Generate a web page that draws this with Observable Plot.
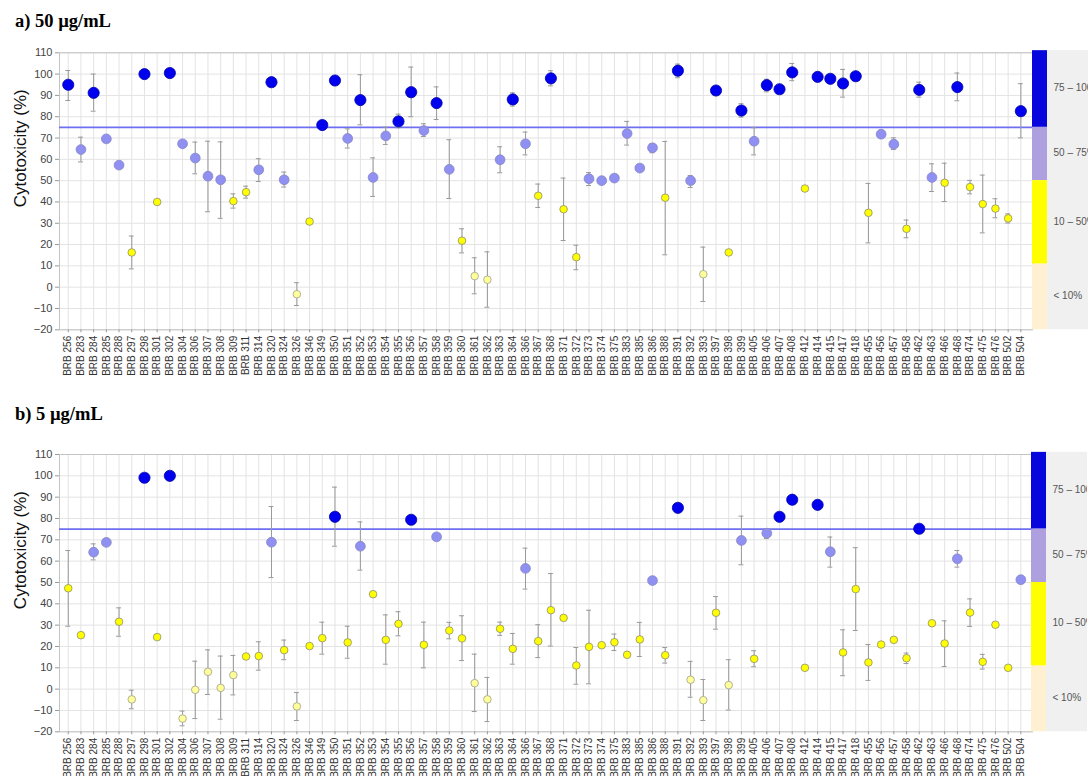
<!DOCTYPE html>
<html>
<head>
<meta charset="utf-8">
<script src="https://cdn.jsdelivr.net/npm/d3@7"></script>
<script src="https://cdn.jsdelivr.net/npm/@observablehq/plot@0.6"></script>
<style>
  html, body { margin: 0; padding: 0; background: #fff; overflow: hidden; }
  body { position: relative; width: 1088px; height: 776px; }
  .title { position: absolute; left: 15px; font-family: "Liberation Serif", "Times New Roman", serif; font-weight: bold; font-size: 18.5px; line-height: 1; color: #000; }
  .abs { position: absolute; }
  .abs svg { display: block; }
</style>
</head>
<body>
<div class="title" id="ta" style="top:12px">a) 50 µg/mL</div>
<div class="abs" id="pa" style="left:0; top:40px"></div>
<div class="abs" id="la" style="left:1032px; top:40px"></div>
<div class="title" id="tb" style="top:405px">b) 5 µg/mL</div>
<div class="abs" id="pb" style="left:0; top:440px"></div>
<div class="abs" id="lb" style="left:1031px; top:440px"></div>
<script>
// ---------- data ----------
const ids = [256,283,284,285,288,297,298,301,302,304,306,307,308,309,311,314,320,324,326,346,
  349,350,351,352,353,354,355,356,357,358,359,360,361,362,363,364,366,367,368,371,
  372,373,374,375,383,385,386,388,391,392,393,397,398,399,405,406,407,408,412,414,
  415,417,418,455,456,457,458,462,463,466,468,474,475,476,502,504];
const categories = ids.map(n => "BRB " + n);

// a) 50 µg/mL : mean, lower and upper end of error bar (null = no bar)
const v50 = [95.0,64.6,91.2,69.6,57.3,16.3,100.0,40.0,100.5,67.3,60.6,52.1,50.4,40.4,44.6,55.1,96.2,50.4,-3.3,30.8,
  76.1,97.0,69.8,87.8,51.5,71.0,77.8,91.5,73.5,86.4,55.3,21.8,5.2,3.5,59.8,88.1,67.3,42.9,98.0,36.6,
  14.1,50.9,50.0,51.2,72.1,55.9,65.4,42.0,101.6,50.0,6.1,92.3,16.3,82.9,68.5,94.8,92.9,100.8,46.3,98.7,
  97.8,95.6,99.0,34.9,71.8,67.1,27.4,92.6,51.5,49.0,93.9,47.0,39.0,36.9,32.3,82.6];
const lo50 = [87.6,58.8,82.6,null,null,8.6,null,null,null,null,53.2,35.4,32.3,37.1,41.8,49.6,null,47.0,-8.6,null,
  null,null,65.3,76.2,42.6,67.0,74.8,80.0,70.7,78.7,41.6,16.1,-3.1,-9.4,53.7,85.0,62.1,37.4,94.5,21.9,
  8.2,47.7,null,null,66.7,null,63.1,15.2,98.3,46.8,-6.7,null,null,79.8,62.1,91.7,null,96.9,null,null,
  null,89.2,null,20.8,null,64.6,23.2,89.2,44.9,40.2,87.5,43.8,25.5,32.6,30.1,70.1];
const hi50 = [101.7,70.4,100.0,null,null,24.0,null,null,null,null,68.1,68.5,68.2,43.8,47.4,60.3,null,54.0,2.1,null,
  null,null,74.3,99.7,60.7,75.1,81.2,103.3,76.7,94.0,69.2,27.4,13.8,16.6,65.9,91.2,72.8,48.4,101.6,51.2,
  19.7,53.8,null,null,77.8,null,67.3,68.4,104.7,52.4,18.8,null,null,86.1,74.8,97.6,null,105.0,null,null,
  null,102.2,null,48.7,null,70.1,31.5,96.2,57.9,58.2,100.5,50.1,52.6,41.5,34.4,95.5];

// b) 5 µg/mL
const v5 = [47.3,25.3,64.2,68.8,31.6,-4.8,99.1,24.4,100.0,-13.8,-0.3,8.1,0.6,6.6,15.3,15.5,68.9,18.3,-8.1,20.2,
  23.9,80.8,21.9,67.0,44.5,23.1,30.6,79.4,20.8,71.4,27.5,23.8,2.8,-4.8,28.3,18.9,56.6,22.5,37.0,33.4,
  11.1,19.8,20.6,22.0,16.1,23.3,50.9,15.9,85.0,4.4,-5.2,35.8,1.9,69.7,14.2,73.1,80.8,88.8,10.0,86.4,
  64.4,17.2,46.9,12.5,20.9,23.1,14.5,75.2,30.9,21.4,61.1,35.9,12.8,30.2,10.0,51.3];
const lo5 = [29.5,null,60.6,null,24.8,-9.2,null,null,null,-17.2,-13.8,-2.5,-14.1,-2.7,null,8.9,52.3,13.8,-14.7,null,
  16.4,67.0,14.5,55.8,null,11.7,25.0,null,10.0,null,23.6,13.4,-10.5,-15.2,25.2,11.7,46.9,14.8,20.2,null,
  2.3,2.5,null,18.1,null,15.3,null,12.2,null,-3.8,-14.7,28.1,-9.8,58.3,10.5,70.6,null,null,null,null,
  57.2,6.3,27.5,4.1,null,null,12.0,null,null,10.6,57.2,29.4,9.4,null,null,null];
const hi5 = [65.0,null,68.1,null,38.1,-0.5,null,null,null,-10.3,13.1,18.4,15.5,15.8,null,22.2,85.6,23.0,-1.6,null,
  31.4,94.7,29.5,78.4,null,34.8,36.3,null,31.4,null,31.3,34.4,16.4,5.5,31.4,26.1,66.1,30.2,54.2,null,
  19.5,37.0,null,25.8,null,31.3,null,19.5,null,13.0,4.5,43.4,13.8,81.1,18.0,75.2,null,null,null,null,
  71.3,27.8,66.3,20.9,null,null,16.9,null,null,32.0,65.0,42.3,16.3,null,null,null];

// legend classes
const legendLabels = ["75 – 100%", "50 – 75%", "10 – 50%", "< 10%"];
const legendBreaks = [111, 75, 50, 10.8, -20];
const classThresholds = [75, 50, 10];
const yTicks = d3.range(-20, 111, 10);

// ---------- styles ----------
const dotStyle = [
  {fill: "#0000ee", stroke: "#0000a8", r: 5.6},
  {fill: "#9090f2", stroke: "#8686c4", r: 4.9},
  {fill: "#ffff00", stroke: "#8e8e70", r: 3.8},
  {fill: "#ffff99", stroke: "#a0a090", r: 3.8}
];
const legendColors = ["#0707dd", "#ae9fde", "#ffff00", "#fff0d2"];

function classOf(v) {
  for (let i = 0; i < classThresholds.length; i++) if (v >= classThresholds[i]) return i;
  return classThresholds.length;
}

function panel(vals, lows, highs, height, mTop, mBottom) {
  const rows = categories.map((c, i) => ({cat: c, v: vals[i], lo: lows[i], hi: highs[i], k: classOf(vals[i])}));
  const err = rows.filter(d => d.lo != null && d.hi != null);
  const grid = "#e3e3e3";
  return Plot.plot({
    width: 1088, height,
    marginLeft: 59, marginRight: 56, marginTop: mTop, marginBottom: mBottom,
    style: {fontFamily: "'Liberation Sans', Arial, sans-serif", color: "#444", background: "transparent"},
    x: {domain: categories, padding: 0, insetLeft: 2.4, insetRight: 5.3, axis: null},
    y: {domain: [-20, 110], axis: null},
    marks: [
      Plot.gridX({stroke: grid, strokeOpacity: 1}),
      Plot.gridY({ticks: yTicks, stroke: grid, strokeOpacity: 1}),
      Plot.frame({stroke: "#c4c4c4"}),
      Plot.axisY({ticks: yTicks, tickSize: 4, tickPadding: 3, fontSize: 11, label: null, stroke: "#999", fill: "#444"}),
      Plot.axisX({tickRotate: -90, tickSize: 3, tickPadding: 3, fontSize: 10, label: null, stroke: "#999", fill: "#333"}),
      Plot.ruleY([75], {stroke: "#6e6ef2", strokeWidth: 1.6}),
      Plot.ruleX(err, {x: "cat", y1: "lo", y2: "hi", stroke: "#999", strokeWidth: 1}),
      Plot.tickY(err, {x: "cat", y: "lo", stroke: "#999", strokeWidth: 1, insetLeft: 3.9, insetRight: 3.9}),
      Plot.tickY(err, {x: "cat", y: "hi", stroke: "#999", strokeWidth: 1, insetLeft: 3.9, insetRight: 3.9}),
      ...dotStyle.map((s, k) => Plot.dot(rows.filter(d => d.k === k), {x: "cat", y: "v", r: s.r, fill: s.fill, stroke: s.stroke, strokeWidth: 0.8})),
      Plot.text(["Cytotoxicity (%)"], {text: d => d, frameAnchor: "left", dx: -39, dy: 16, rotate: -90, fontSize: 17, fill: "#111"})
    ]
  });
}

function legend(height, mTop, mBottom) {
  const bands = legendLabels.map((label, i) => ({label, hi: legendBreaks[i], lo: legendBreaks[i + 1], mid: (legendBreaks[i] + legendBreaks[i + 1]) / 2, color: legendColors[i]}));
  return Plot.plot({
    width: 56, height,
    marginLeft: 0, marginRight: 0, marginTop: mTop, marginBottom: mBottom,
    style: {fontFamily: "'Liberation Sans', Arial, sans-serif", background: "transparent"},
    x: {domain: [0, 56], range: [0, 56], axis: null},
    y: {domain: [-20, 110], axis: null},
    marks: [
      Plot.rect([{}], {x1: 15, x2: 56, y1: legendBreaks[4], y2: legendBreaks[0], fill: "#f0f0f0"}),
      Plot.rect(bands, {x1: 0, x2: 15, y1: "lo", y2: "hi", fill: d => d.color}),
      Plot.text(bands, {x: 21, y: "mid", text: "label", textAnchor: "start", fontSize: 10, fill: "#555", dy: -1})
    ]
  });
}

document.getElementById("pa").append(panel(v50, lo50, hi50, 360, 12.3, 70.7));
document.getElementById("la").append(legend(360, 12.3, 70.7));
document.getElementById("pb").append(panel(v5, lo5, hi5, 336, 14, 44.7));
document.getElementById("lb").append(legend(336, 14, 44.7));
</script>
</body>
</html>
